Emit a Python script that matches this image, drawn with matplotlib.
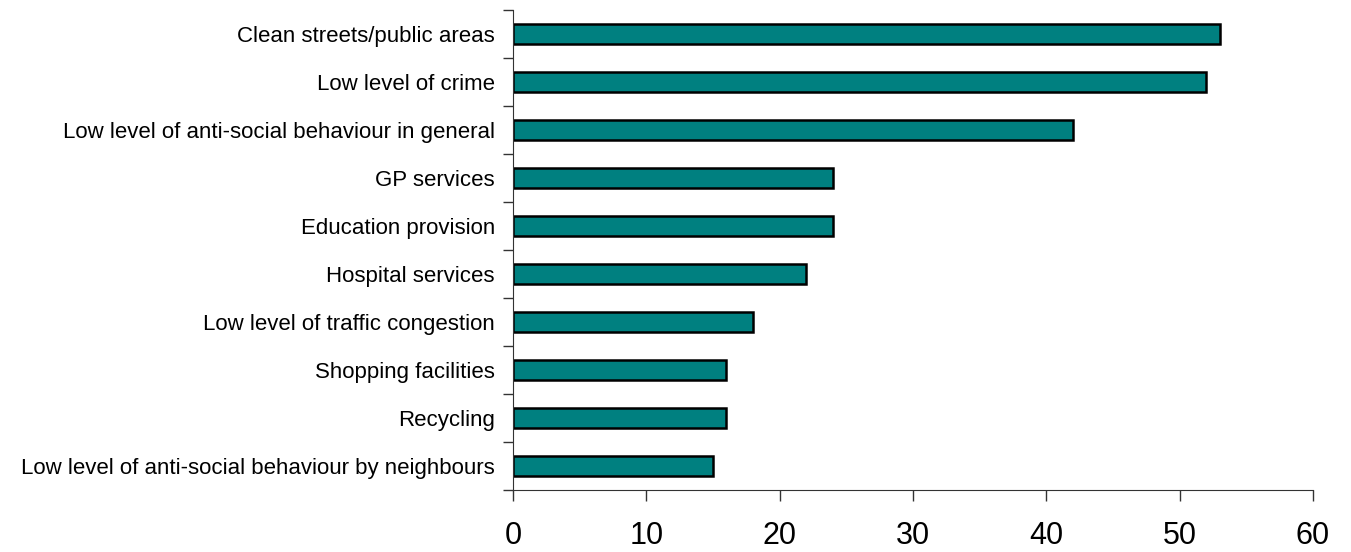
import matplotlib
matplotlib.use("Agg")
import matplotlib.pyplot as plt

categories = ["Clean streets/public areas", "Low level of crime",
              "Low level of anti-social behaviour in general", "GP services",
              "Education provision", "Hospital services",
              "Low level of traffic congestion", "Shopping facilities",
              "Recycling", "Low level of anti-social behaviour by neighbours"]
values = [53, 52, 42, 24, 24, 22, 18, 16, 16, 15]
xticks = [0, 10, 20, 30, 40, 50, 60]

plt.rcParams['font.family'] = ['Liberation Sans', 'DejaVu Sans']

fig = plt.figure(figsize=(13.51, 5.52), dpi=100)
ax = fig.add_axes([513/1351, 1-490/552, 800/1351, 480/552])

pos = list(range(len(categories)))[::-1]
ax.barh(pos, values, height=0.4, color='#008080', edgecolor='black', linewidth=1.8)

ax.set_xlim(0, 60)
ax.set_ylim(-0.5, len(categories) - 0.5)
ax.set_xticks(xticks)
ax.set_xticklabels([str(t) for t in xticks], fontsize=22)
ax.set_yticks(pos)
ax.set_yticklabels(categories, fontsize=16)
ax.tick_params(axis='y', length=0, pad=13)
ax.tick_params(axis='x', length=8, width=1, color='#333333', pad=14)

# minor ticks between categories on the y axis
ax.set_yticks([p + 0.5 for p in range(-1, len(categories))], minor=True)
ax.tick_params(axis='y', which='minor', length=7, width=1, color='#333333')

for s in ['top', 'right']:
    ax.spines[s].set_visible(False)
ax.spines['left'].set_color('#333333')
ax.spines['bottom'].set_color('#333333')

fig.savefig("out.png", dpi=100)
